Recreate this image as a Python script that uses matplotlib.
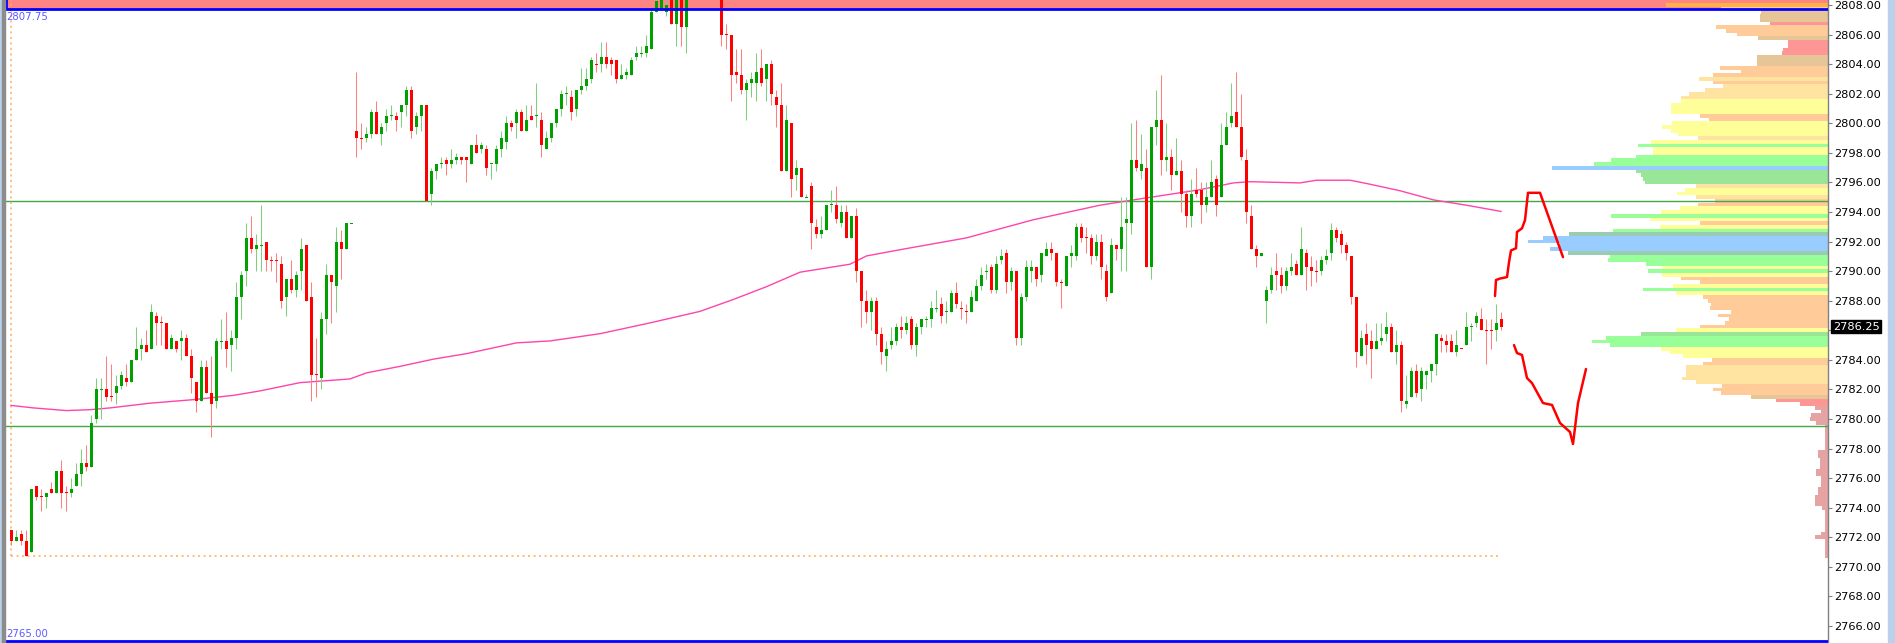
import numpy as np
import matplotlib
matplotlib.use("Agg")
import matplotlib.pyplot as plt
from matplotlib.patches import Rectangle
from matplotlib import transforms

# candles, one per bar
opens = [
    2772.5, 2771.75, 2772.25, 2771.75, 2771.0, 2775.5, 2774.75, 2774.75, 2775.25, 2775.0,
    2776.5, 2775.0, 2775.0, 2775.5, 2776.25, 2777.0, 2776.75, 2780.0, 2782.0, 2782.0,
    2781.5, 2781.75, 2782.25, 2782.75, 2782.5, 2784.0, 2784.75, 2785.0, 2784.75, 2787.0,
    2786.5, 2786.5, 2784.75, 2785.25, 2785.25, 2785.5, 2784.25, 2782.5, 2781.25, 2783.5,
    2781.75, 2781.25, 2785.25, 2785.25, 2785.0, 2785.5, 2788.25, 2790.0, 2792.25, 2791.5,
    2791.75, 2792.0, 2790.75, 2790.75, 2790.5, 2788.25, 2789.5, 2788.75, 2790.0, 2791.75,
    2788.25, 2783.0, 2782.75, 2786.75, 2789.75, 2789.0, 2792.0, 2791.5, 2793.25, 2799.5,
    2799.0, 2799.0, 2799.25, 2800.75, 2799.25, 2800.0, 2800.5, 2800.5, 2800.75, 2801.25,
    2802.25, 2799.75, 2800.5, 2801.25, 2795.25, 2796.75, 2797.25, 2797.5, 2797.25, 2797.5,
    2797.75, 2797.75, 2797.25, 2798.5, 2798.25, 2798.25, 2797.25, 2797.25, 2798.25, 2798.75,
    2800.0, 2800.0, 2800.75, 2799.5, 2800.5, 2800.5, 2800.25, 2798.25, 2799.0, 2800.0,
    2801.0, 2802.0, 2801.75, 2801.0, 2802.25, 2802.5, 2803.0, 2804.0, 2804.0, 2804.5,
    2804.25, 2804.25, 2803.0, 2803.25, 2803.25, 2804.5, 2804.75, 2804.75, 2805.0, 2807.5,
    2807.75, 2807.5, 2808.5, 2806.75, 2808.5, 2806.5, 2808.75, 2809.25, 2809.5, 2809.75,
    2809.25, 2809.0, 2808.5, 2806.0, 2806.0, 2803.5, 2803.25, 2802.25, 2802.75, 2802.75,
    2803.75, 2803.0, 2804.0, 2801.75, 2801.25, 2796.75, 2800.0, 2796.5, 2797.0, 2795.0,
    2795.75, 2793.0, 2792.5, 2792.75, 2794.5, 2794.5, 2793.25, 2794.0, 2792.25, 2793.75,
    2790.0, 2788.0, 2787.25, 2788.0, 2785.75, 2784.25, 2785.0, 2785.25, 2786.25, 2786.0,
    2786.75, 2785.0, 2786.25, 2786.75, 2786.75, 2787.5, 2787.75, 2787.25, 2787.25, 2788.5,
    2787.5, 2787.25, 2787.25, 2788.0, 2789.0, 2790.0, 2790.25, 2788.75, 2790.75, 2791.25,
    2789.25, 2790.0, 2785.5, 2788.25, 2790.0, 2790.25, 2789.75, 2791.0, 2791.5, 2791.25,
    2789.25, 2789.0, 2791.0, 2791.0, 2793.0, 2792.25, 2792.25, 2791.0, 2792.0, 2790.0,
    2788.5, 2791.75, 2791.5, 2793.25, 2793.25, 2797.5, 2796.75, 2797.0, 2790.25, 2799.75,
    2800.25, 2797.5, 2797.75, 2796.5, 2796.75, 2795.25, 2793.75, 2795.5, 2795.5, 2794.5,
    2795.0, 2796.25, 2795.0, 2798.5, 2800.0, 2800.75, 2799.75, 2797.5, 2793.75, 2791.5,
    2791.0, 2788.0, 2788.75, 2790.0, 2789.75, 2789.0, 2790.0, 2790.5, 2789.75, 2791.25,
    2790.25, 2790.0, 2790.0, 2790.75, 2791.25, 2792.75, 2792.5, 2791.75, 2791.0, 2788.25,
    2784.25, 2785.75, 2785.25, 2784.75, 2785.25, 2785.75, 2786.25, 2784.5, 2785.0, 2781.0,
    2781.5, 2783.25, 2782.0, 2783.0, 2783.25, 2783.75, 2785.5, 2785.25, 2785.25, 2784.5,
    2784.75, 2785.0, 2786.25, 2786.5, 2786.75, 2786.0, 2786.0, 2786.0, 2786.75,
]
highs = [
    2772.5, 2772.5, 2772.5, 2772.5, 2775.25, 2775.5, 2775.25, 2775.0, 2775.75, 2776.5,
    2777.25, 2775.5, 2776.0, 2777.0, 2778.0, 2778.25, 2780.25, 2782.75, 2782.75, 2784.25,
    2783.75, 2783.0, 2783.25, 2783.75, 2784.0, 2786.25, 2785.5, 2786.0, 2787.75, 2787.25,
    2787.0, 2786.5, 2785.75, 2785.25, 2786.0, 2785.75, 2784.75, 2782.5, 2784.0, 2784.0,
    2784.25, 2785.5, 2786.75, 2787.25, 2786.0, 2789.25, 2790.0, 2793.25, 2793.75, 2792.5,
    2794.5, 2792.0, 2791.0, 2791.25, 2791.0, 2789.5, 2790.75, 2790.0, 2792.25, 2791.75,
    2789.25, 2785.5, 2787.25, 2790.5, 2789.75, 2793.0, 2792.75, 2793.25, 2793.25, 2803.5,
    2800.0, 2799.75, 2801.0, 2801.5, 2800.0, 2801.0, 2801.25, 2800.75, 2801.25, 2802.5,
    2802.5, 2800.75, 2801.25, 2801.25, 2797.0, 2797.25, 2797.75, 2797.75, 2798.25, 2798.0,
    2797.75, 2797.75, 2798.5, 2799.25, 2798.75, 2798.5, 2797.25, 2798.5, 2799.5, 2800.5,
    2800.25, 2801.0, 2801.0, 2801.25, 2801.25, 2802.75, 2800.75, 2799.5, 2800.0, 2801.0,
    2802.25, 2802.5, 2802.25, 2802.25, 2803.75, 2803.75, 2804.5, 2804.75, 2805.5, 2805.5,
    2804.5, 2804.25, 2804.0, 2803.75, 2804.5, 2805.25, 2805.25, 2806.0, 2807.75, 2808.75,
    2808.75, 2808.75, 2808.75, 2808.75, 2808.75, 2808.75, 2809.5, 2810.0, 2810.25, 2810.0,
    2809.75, 2809.5, 2809.0, 2806.75, 2806.0, 2805.0, 2805.0, 2803.0, 2803.5, 2804.75,
    2805.0, 2804.0, 2804.25, 2802.25, 2802.75, 2801.25, 2800.0, 2797.5, 2797.0, 2795.25,
    2796.0, 2793.5, 2793.75, 2794.5, 2795.5, 2795.75, 2794.5, 2794.5, 2793.75, 2794.25,
    2790.0, 2788.75, 2788.25, 2788.25, 2786.25, 2785.25, 2786.25, 2786.5, 2787.0, 2787.0,
    2787.0, 2786.5, 2786.75, 2787.0, 2788.0, 2788.75, 2788.25, 2788.0, 2788.75, 2789.25,
    2788.0, 2787.75, 2788.75, 2789.5, 2790.25, 2790.5, 2790.5, 2791.0, 2791.5, 2791.5,
    2790.25, 2790.0, 2788.5, 2790.75, 2790.75, 2790.25, 2791.25, 2792.0, 2792.0, 2791.25,
    2789.5, 2791.0, 2791.75, 2793.25, 2793.25, 2793.0, 2792.5, 2792.5, 2792.5, 2790.5,
    2792.25, 2791.75, 2795.0, 2795.0, 2800.0, 2800.25, 2799.25, 2798.25, 2799.75, 2802.25,
    2803.25, 2800.0, 2798.25, 2799.0, 2797.5, 2795.5, 2796.25, 2797.0, 2796.0, 2796.0,
    2797.5, 2796.5, 2800.0, 2800.75, 2802.75, 2803.5, 2802.0, 2798.25, 2794.5, 2791.75,
    2791.25, 2789.0, 2790.25, 2791.25, 2790.25, 2790.25, 2791.25, 2790.75, 2793.0, 2791.5,
    2791.0, 2790.75, 2791.0, 2791.5, 2793.25, 2793.0, 2792.75, 2792.0, 2791.0, 2788.25,
    2786.0, 2786.5, 2786.0, 2786.5, 2786.5, 2787.25, 2786.5, 2786.0, 2785.25, 2783.0,
    2783.5, 2783.75, 2783.5, 2783.25, 2783.75, 2785.75, 2785.75, 2785.75, 2785.75, 2786.0,
    2784.75, 2787.25, 2786.5, 2787.25, 2787.5, 2786.75, 2786.75, 2787.75, 2787.25,
]
lows = [
    2771.5, 2771.75, 2771.5, 2770.75, 2771.0, 2774.5, 2773.75, 2774.0, 2775.0, 2775.0,
    2774.0, 2773.75, 2774.75, 2775.5, 2775.5, 2776.5, 2776.75, 2779.75, 2780.0, 2781.25,
    2781.25, 2781.0, 2782.0, 2782.25, 2782.5, 2784.0, 2784.0, 2784.5, 2784.75, 2785.0,
    2785.0, 2784.75, 2784.75, 2784.5, 2784.0, 2784.25, 2781.75, 2780.5, 2781.25, 2781.75,
    2778.75, 2780.75, 2784.75, 2783.5, 2783.25, 2784.75, 2786.75, 2789.0, 2791.25, 2790.0,
    2790.0, 2790.0, 2790.0, 2789.25, 2787.5, 2787.0, 2788.5, 2788.25, 2788.75, 2788.0,
    2781.25, 2781.5, 2782.0, 2785.75, 2786.5, 2787.25, 2789.5, 2791.5, 2793.25, 2797.75,
    2798.25, 2798.75, 2799.0, 2799.25, 2798.5, 2799.5, 2800.25, 2799.5, 2799.75, 2800.5,
    2799.0, 2799.25, 2799.5, 2794.75, 2794.5, 2796.25, 2797.0, 2796.5, 2797.0, 2797.25,
    2797.25, 2796.0, 2797.25, 2798.0, 2798.0, 2796.5, 2796.25, 2796.75, 2797.75, 2798.25,
    2799.5, 2799.0, 2799.5, 2799.5, 2800.25, 2799.75, 2797.75, 2798.25, 2798.75, 2799.75,
    2800.5, 2801.25, 2800.25, 2800.5, 2802.0, 2802.25, 2802.75, 2803.5, 2803.5, 2803.75,
    2803.25, 2802.75, 2803.0, 2803.0, 2803.25, 2804.25, 2804.5, 2804.5, 2805.0, 2807.5,
    2807.75, 2807.25, 2806.75, 2805.25, 2805.25, 2804.75, 2808.5, 2808.75, 2809.0, 2809.0,
    2808.75, 2808.25, 2805.25, 2805.0, 2801.5, 2802.75, 2802.0, 2800.25, 2801.75, 2801.5,
    2802.5, 2801.5, 2801.25, 2799.75, 2796.75, 2796.75, 2795.0, 2795.5, 2795.0, 2795.0,
    2791.5, 2792.25, 2792.25, 2792.75, 2794.0, 2793.25, 2793.0, 2792.25, 2792.25, 2789.25,
    2786.25, 2786.5, 2786.0, 2785.0, 2783.75, 2783.25, 2784.75, 2785.0, 2785.5, 2785.75,
    2784.75, 2784.25, 2785.75, 2786.25, 2786.25, 2787.25, 2786.5, 2786.5, 2787.25, 2787.5,
    2786.75, 2786.5, 2787.25, 2788.0, 2788.75, 2789.5, 2788.5, 2788.5, 2790.5, 2788.5,
    2788.75, 2785.0, 2785.0, 2788.0, 2789.25, 2789.0, 2789.25, 2791.0, 2790.75, 2789.0,
    2787.5, 2789.0, 2790.25, 2790.75, 2792.0, 2791.25, 2790.5, 2790.75, 2789.5, 2788.0,
    2788.5, 2790.75, 2790.0, 2790.0, 2792.5, 2796.75, 2796.25, 2790.25, 2789.5, 2798.5,
    2796.5, 2796.75, 2795.5, 2796.5, 2794.0, 2793.0, 2793.0, 2795.0, 2793.25, 2794.0,
    2795.0, 2793.75, 2795.0, 2798.5, 2799.75, 2799.75, 2797.5, 2793.25, 2791.5, 2790.25,
    2791.0, 2786.5, 2788.5, 2788.75, 2788.5, 2788.75, 2789.75, 2789.75, 2789.75, 2788.75,
    2789.0, 2789.25, 2789.75, 2790.5, 2790.75, 2792.0, 2791.25, 2790.75, 2787.75, 2783.5,
    2784.25, 2783.75, 2782.75, 2784.75, 2785.0, 2785.25, 2784.5, 2783.75, 2780.5, 2780.75,
    2781.5, 2781.5, 2781.25, 2782.0, 2782.5, 2783.0, 2784.5, 2784.5, 2784.5, 2784.25,
    2784.75, 2785.0, 2785.25, 2786.25, 2786.0, 2783.75, 2784.75, 2785.25, 2786.0,
]
closes = [
    2771.75, 2772.0, 2771.75, 2770.75, 2775.25, 2774.75, 2774.75, 2775.0, 2775.0, 2776.5,
    2775.0, 2775.0, 2775.25, 2776.25, 2777.0, 2776.75, 2779.75, 2782.0, 2782.0, 2781.5,
    2781.5, 2782.25, 2783.0, 2782.5, 2784.0, 2784.75, 2785.0, 2784.5, 2787.25, 2786.5,
    2786.5, 2784.75, 2785.5, 2784.75, 2785.5, 2784.25, 2782.75, 2781.25, 2783.5, 2781.75,
    2781.0, 2785.25, 2785.25, 2784.75, 2785.5, 2788.25, 2789.75, 2792.25, 2791.5, 2791.75,
    2791.75, 2790.75, 2790.75, 2790.75, 2788.0, 2789.5, 2788.75, 2789.75, 2791.5, 2788.0,
    2783.0, 2783.0, 2786.75, 2789.75, 2789.25, 2792.0, 2791.5, 2793.25, 2793.25, 2799.0,
    2799.0, 2799.25, 2800.75, 2799.25, 2799.75, 2800.5, 2800.5, 2800.25, 2801.25, 2802.25,
    2799.5, 2800.5, 2801.25, 2794.75, 2796.75, 2797.25, 2797.25, 2797.25, 2797.5, 2797.75,
    2797.5, 2797.5, 2798.5, 2798.0, 2798.5, 2797.0, 2797.25, 2798.25, 2799.0, 2800.0,
    2799.75, 2800.75, 2799.5, 2800.25, 2800.25, 2800.5, 2798.5, 2799.0, 2800.0, 2801.0,
    2802.0, 2802.0, 2800.75, 2802.25, 2802.5, 2803.0, 2804.25, 2804.0, 2804.5, 2804.0,
    2804.0, 2803.0, 2803.25, 2803.5, 2804.25, 2804.75, 2804.75, 2805.25, 2807.5, 2808.25,
    2808.5, 2808.0, 2806.75, 2808.5, 2806.5, 2808.5, 2809.25, 2809.5, 2809.75, 2809.25,
    2809.0, 2808.5, 2806.0, 2806.0, 2803.25, 2803.25, 2802.25, 2802.75, 2803.0, 2803.5,
    2802.75, 2804.0, 2802.0, 2801.25, 2796.75, 2800.25, 2796.25, 2797.0, 2795.0, 2795.0,
    2793.25, 2792.5, 2792.75, 2794.5, 2794.5, 2793.5, 2794.0, 2792.25, 2793.75, 2790.0,
    2788.0, 2787.25, 2788.0, 2785.75, 2784.5, 2784.75, 2785.25, 2786.25, 2786.0, 2786.5,
    2785.0, 2786.25, 2786.75, 2786.75, 2787.5, 2787.5, 2787.0, 2787.25, 2788.5, 2787.75,
    2787.5, 2787.25, 2788.25, 2789.0, 2789.75, 2790.0, 2788.75, 2790.5, 2791.0, 2789.25,
    2790.0, 2785.5, 2788.25, 2790.25, 2790.25, 2789.5, 2791.25, 2791.5, 2791.25, 2789.25,
    2789.25, 2791.0, 2791.25, 2793.0, 2792.25, 2792.25, 2791.0, 2792.0, 2790.25, 2788.25,
    2791.75, 2791.5, 2793.0, 2793.5, 2797.5, 2797.0, 2797.25, 2790.25, 2799.75, 2800.25,
    2797.5, 2797.75, 2796.5, 2796.75, 2795.25, 2793.75, 2795.25, 2795.25, 2794.5, 2795.0,
    2796.0, 2794.5, 2798.5, 2799.75, 2800.5, 2799.75, 2797.75, 2794.0, 2791.5, 2791.0,
    2791.25, 2788.75, 2789.75, 2789.75, 2789.0, 2790.0, 2790.25, 2789.75, 2791.5, 2790.25,
    2790.0, 2790.0, 2790.75, 2791.0, 2792.75, 2792.25, 2791.75, 2791.25, 2788.25, 2784.5,
    2785.5, 2785.0, 2784.75, 2785.25, 2785.5, 2786.25, 2784.5, 2785.0, 2781.25, 2781.25,
    2783.25, 2781.75, 2783.25, 2783.25, 2783.75, 2785.75, 2785.25, 2785.0, 2784.5, 2785.0,
    2784.75, 2786.25, 2786.25, 2787.0, 2786.0, 2786.0, 2786.0, 2786.5, 2786.25,
]
# flat bars that the chart paints green
doji_up = [18, 42, 50, 68, 76, 86, 96, 105, 111, 126, 159, 164, 183, 185, 187, 195, 292]

# moving average, read at a few bars
ma_bar = [0, 4.5, 11.1, 15.8, 19.8, 27.8, 36.5, 44.5, 49.8, 57.8, 67.8, 71.1, 77.8, 84.5,
          91.1, 101.1, 107.8, 117.8, 127.8, 137.8, 144.5, 151.1, 157.8, 167.8, 171.1, 177.8,
          191.1, 204.5, 217.8, 224.5, 237.8, 244.5, 247.8, 257.8, 261.1, 267.8, 271.1,
          277.8, 284.5, 291.1, 298]
ma_val = [2780.92, 2780.75, 2780.57, 2780.63, 2780.75, 2781.07, 2781.31, 2781.6, 2781.9,
          2782.46, 2782.71, 2783.12, 2783.56, 2784.05, 2784.42, 2785.15, 2785.28, 2785.77,
          2786.5, 2787.28, 2788.09, 2788.95, 2789.93, 2790.47, 2791.03, 2791.45, 2792.25,
          2793.48, 2794.46, 2794.82, 2795.51, 2795.97, 2796.05, 2795.97, 2796.15, 2796.15,
          2795.93, 2795.44, 2794.82, 2794.46, 2794.04]

# hand-drawn red projections
up_path_x = [296.8, 297.0, 297.8, 299.2, 299.6, 300.0, 301.0, 301.2, 302.2, 302.8, 303.4, 305.8, 310.4]
up_path_y = [2788.32, 2789.4, 2789.5, 2789.6, 2790.6, 2791.4, 2791.55, 2792.65, 2792.9,
             2793.45, 2795.3, 2795.3, 2790.95]
dn_path_x = [300.6, 301.2, 302.2, 303.2, 304.2, 306.4, 308.2, 309.8, 311.8, 312.4, 313.4, 315.0]
dn_path_y = [2785.0, 2784.46, 2784.33, 2782.77, 2782.43, 2781.08, 2780.95, 2779.73,
             2779.12, 2778.31, 2781.08, 2783.38]

# volume profile, one row per 0.25 from the top level down
prof_top = 2808.0
prof_vol = [
    162, 107, 67, 68, 68, 58, 112, 102, 91, 70,
    40, 40, 45, 46, 71, 71, 71, 108, 87, 115,
    129, 115, 105, 123, 139, 147, 147, 157, 157, 157,
    128, 119, 156, 166, 157, 150, 130, 177, 190, 175,
    175, 192, 217, 234, 276, 192, 187, 185, 183, 132,
    143, 151, 132, 113, 130, 148, 167, 217, 178, 128,
    168, 215, 259, 285, 300, 268, 278, 260, 218, 220,
    182, 166, 180, 166, 147, 128, 155, 185, 152, 125,
    120, 117, 118, 97, 110, 99, 103, 128, 152, 187,
    222, 236, 218, 167, 158, 145, 116, 125, 142, 142,
    142, 146, 132, 106, 115, 107, 77, 52, 28, 13,
    7, 17, 18, 12, 3, 3, 3, 3, 3, 3,
    3, 10, 10, 8, 8, 8, 12, 12, 7, 7,
    7, 10, 10, 13, 13, 13, 6, 3, 3, 3,
    3, 3, 3, 7, 13, 3, 3, 3, 3, 3,
]
prof_kind = ("OPTTTRPPPT" "RRRRTTTPPP" "LPLLLLYYYY" "PPYYYYLYGY" "YGGGBDDDDL"
             "YYLPPYYGYP" "YGQBBBBQGG" "GYGYPPYGYP" "PPPPPPPPYD" "GGGYYYPPLL"
             "LLLPPPTRRK" + "K" * 40)
kind_colors = {"O": "#FFB347", "P": "#FFCC99", "L": "#FFE3A0", "T": "#E6C697",
               "R": "#FF9696", "K": "#E6A3A3", "Y": "#FFFF99", "G": "#99FF99",
               "D": "#99E699", "B": "#99CCFF", "Q": "#99CCB3"}

res_level = 2794.75
sup_level = 2779.5
zone_top = 2807.75
zone_bottom = 2765.0
range_low = 2770.75
last_price = 2786.25

W, H = 1895, 643
fig = plt.figure(figsize=(W / 100, H / 100), dpi=100)
fig.patches.append(Rectangle((0, 0), 2 / W, 1, transform=fig.transFigure, color="#B9D1EA"))
fig.patches.append(Rectangle((2 / W, 0), 3 / W, 1, transform=fig.transFigure, color="#8C8C8C"))
fig.patches.append(Rectangle((1888 / W, 0), 7 / W, 1, transform=fig.transFigure, color="#B9D1EA"))

ax = fig.add_axes([5 / W, 0, 1823 / W, 1])
xmax = 363.4
ax.set_xlim(-1.2, xmax)
ax.set_ylim(2764.85, 2808.34)

# zone at the top, blue bounded
ax.add_patch(Rectangle((-1.0, zone_top), xmax + 2, 3, facecolor="#FF8585",
                       edgecolor="none", zorder=1))
ax.vlines(-1.0, zone_top, 2810, color="#0000FF", lw=2, zorder=6)
ax.axhline(zone_top, xmin=0.0005, color="#0000FF", lw=2, zorder=6)
ax.axhline(zone_bottom, xmin=0.0005, color="#0000FF", lw=2, zorder=6)
ax.text(-1.0, zone_top - 0.2, "2807.75", color="#5A5AFF", fontsize=7.3, va="top", ha="left", zorder=7)
ax.text(-1.0, zone_bottom + 0.15, "2765.00", color="#5A5AFF", fontsize=7.3, va="bottom", ha="left", zorder=7)

# volume profile on the right
levels = prof_top - 0.25 * np.arange(len(prof_vol))
vol = np.array(prof_vol, dtype=float)
ax.barh(levels, vol * 0.2, left=xmax - vol * 0.2, height=0.25,
        color=[kind_colors[k] for k in prof_kind], linewidth=0, zorder=2)

# levels
ax.axhline(res_level, color="#44A844", lw=1.0, zorder=2.5)
ax.axhline(sup_level, color="#44A844", lw=1.0, zorder=2.5)
ax.hlines(range_low, 0, 297.4, color="#FFB060", lw=1.1, linestyles=(0, (1.4, 2.2)), zorder=2.5)
ax.vlines(0, range_low, 2810, color="#FFB060", lw=1.1, linestyles=(0, (1.4, 2.2)), zorder=2.5)

# moving average
ax.plot(ma_bar, ma_val, color="#FF44AA", lw=1.0, zorder=3)

# candles
o = np.array(opens)
h = np.array(highs)
l = np.array(lows)
c = np.array(closes)
x = np.arange(len(o))
up = c > o
up[doji_up] = True
body_col = np.where(up, "#00A000", "#FF0000")
wick_col = np.where(up, "#7FCF7F", "#FF7F7F")
bottom = np.minimum(o, c)
height = np.abs(c - o)
flat = height < 0.01
bottom = np.where(flat, o - 0.035, bottom)
height = np.where(flat, 0.07, height)
ax.vlines(x, l, h, colors=wick_col, lw=0.75, zorder=4)
ax.bar(x, height, width=0.6, bottom=bottom, color=body_col, linewidth=0, zorder=5)

# drawn projections
ax.plot(up_path_x, up_path_y, color="#FF0000", lw=1.8, zorder=6, solid_capstyle="round")
ax.plot(dn_path_x, dn_path_y, color="#FF0000", lw=1.8, zorder=6, solid_capstyle="round")

# price scale
for s in ["top", "left", "bottom"]:
    ax.spines[s].set_visible(False)
ax.spines["right"].set_color("#808080")
ax.spines["right"].set_linewidth(1.0)
ax.set_xticks([])
ax.yaxis.tick_right()
ticks = np.arange(2766, 2809, 2)
ax.set_yticks(ticks)
ax.set_yticklabels(["" if t == 2786 else f"{t:.2f}" for t in ticks])
ax.tick_params(axis="y", length=3, width=0.8, color="#808080", labelsize=8.2, pad=1.6,
               labelcolor="#000000")

tr = transforms.offset_copy(transforms.blended_transform_factory(ax.transAxes, ax.transData),
                            fig=fig, x=5, y=0, units="dots")
ax.text(1.0, last_price, "2786.25", transform=tr, ha="left", va="center", color="white",
        fontsize=8.2, bbox=dict(facecolor="black", edgecolor="black", boxstyle="square,pad=0.15"),
        clip_on=False, zorder=8)

fig.savefig("out.png", dpi=100)
